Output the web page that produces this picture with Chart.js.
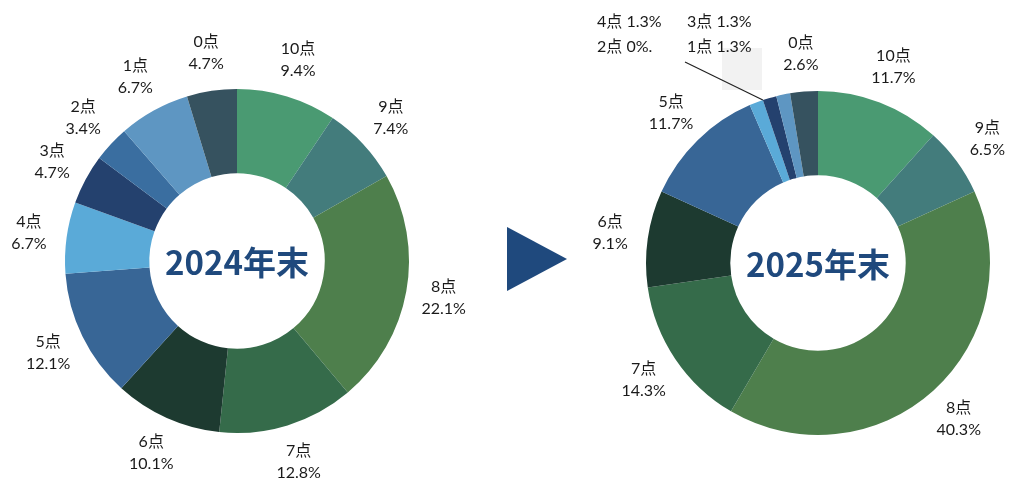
<!DOCTYPE html>
<html lang="ja">
<head>
  <meta charset="UTF-8">
  <title>点数分布 2024年末 / 2025年末</title>
  <script src="https://cdn.jsdelivr.net/npm/chart.js"></script>
  <style>
    body { margin: 0; background: #fff; }
    .stage { position: relative; width: 1024px; height: 493px; overflow: hidden; }
    #chart2024 { position: absolute; left: 0; top: 0; }
    #chart2025 { position: absolute; left: 580px; top: 0; }
    .arrow { position: absolute; left: 507px; top: 227px; }
    .ghost { position: absolute; left: 722px; top: 48px; width: 40px; height: 42px; background: #f2f2f2; }
  </style>
</head>
<body>
<div class="stage">
  <div class="ghost"></div>
  <canvas id="chart2024" width="480" height="493"></canvas>
  <canvas id="chart2025" width="444" height="493"></canvas>
  <svg class="arrow" width="60" height="64"><polygon points="0,0 60,32 0,64" fill="#1f497d"/></svg>
</div>

<script>
  // clockwise from 12 o'clock
  var categories = ['10点', '9点', '8点', '7点', '6点', '5点', '4点', '3点', '2点', '1点', '0点'];
  var values2024 = [9.4, 7.4, 22.1, 12.8, 10.1, 12.1, 6.7, 4.7, 3.4, 6.7, 4.7];
  var values2025 = [11.7, 6.5, 40.3, 14.3, 9.1, 11.7, 1.3, 1.3, 0, 1.3, 2.6];
  var sliceColors = ['#4a9a72', '#437c7c', '#4e7f4c', '#356b4a', '#1d3a30', '#386696',
                     '#5aaad8', '#24416e', '#3a6ea0', '#5e96c2', '#36525f'];
  // tiny 2025 slices are listed together in a callout block
  var callout2025 = ['4点 1.3%', '3点 1.3%', '2点 0%.', '1点 1.3%'];
  var calloutIdx2025 = [6, 7, 8, 9];

  var labelFont = '16px Lato, "Noto Sans CJK JP", sans-serif';
  var textColor = '#1a1a1a';

  var labelPlugin = {
    id: 'sliceLabels',
    afterDraw: function(chart, args, opts) {
      var ctx = chart.ctx;
      var arcs = chart.getDatasetMeta(0).data;
      var vals = chart.data.datasets[0].data;
      var skip = opts.skip || [];
      ctx.save();
      ctx.font = labelFont;
      ctx.fillStyle = textColor;
      ctx.textAlign = 'center';
      ctx.textBaseline = 'middle';
      var cx = 0, cy = 0, outer = 0;
      arcs.forEach(function(arc, i) {
        var p = arc.getProps(['x', 'y', 'startAngle', 'endAngle', 'outerRadius']);
        cx = p.x; cy = p.y; outer = p.outerRadius;
        if (skip.indexOf(i) >= 0) return;
        var a = (p.startAngle + p.endAngle) / 2;
        var r = outer + 38;
        var x = p.x + Math.cos(a) * r;
        var y = p.y + Math.sin(a) * r;
        ctx.fillText(chart.data.labels[i], x, y - 11);
        ctx.fillText(vals[i].toFixed(1) + '%', x, y + 11);
      });

      if (opts.callout) {
        // two-column block above-left of the ring, with a leader line
        ctx.textAlign = 'left';
        var bx = cx - 221, by = cy - 241;
        opts.callout.forEach(function(t, k) {
          ctx.fillText(t, bx + (k % 2) * 90, by + Math.floor(k / 2) * 25);
        });
        var a0 = arcs[opts.calloutIdx[0]].getProps(['endAngle']).endAngle;
        ctx.strokeStyle = '#222';
        ctx.lineWidth = 1.2;
        ctx.beginPath();
        ctx.moveTo(cx - 133, cy - 201);
        ctx.lineTo(cx + Math.cos(a0) * outer, cy + Math.sin(a0) * outer);
        ctx.stroke();
      }

      // year in the hole
      ctx.textAlign = 'center';
      ctx.font = 'bold 33px "Noto Sans CJK JP", sans-serif';
      ctx.fillStyle = '#1f497d';
      ctx.fillText(opts.title, cx, cy + 1);
      ctx.restore();
    }
  };

  function makeDonut(id, values, padding, pluginOpts) {
    var ctx = document.getElementById(id).getContext('2d');
    return new Chart(ctx, {
      type: 'doughnut',
      data: {
        labels: categories,
        datasets: [{
          data: values,
          backgroundColor: sliceColors,
          borderWidth: 0
        }]
      },
      options: {
        responsive: false,
        animation: false,
        cutout: '51%',
        layout: { padding: padding },
        plugins: {
          legend: { display: false },
          tooltip: { enabled: false },
          sliceLabels: pluginOpts
        }
      },
      plugins: [labelPlugin]
    });
  }

  makeDonut('chart2024', values2024,
    { left: 65, right: 71, top: 89, bottom: 60 },
    { title: '2024年末' });

  makeDonut('chart2025', values2025,
    { left: 66, right: 34, top: 91, bottom: 58 },
    { title: '2025年末', skip: calloutIdx2025, callout: callout2025, calloutIdx: calloutIdx2025 });
</script>
</body>
</html>
